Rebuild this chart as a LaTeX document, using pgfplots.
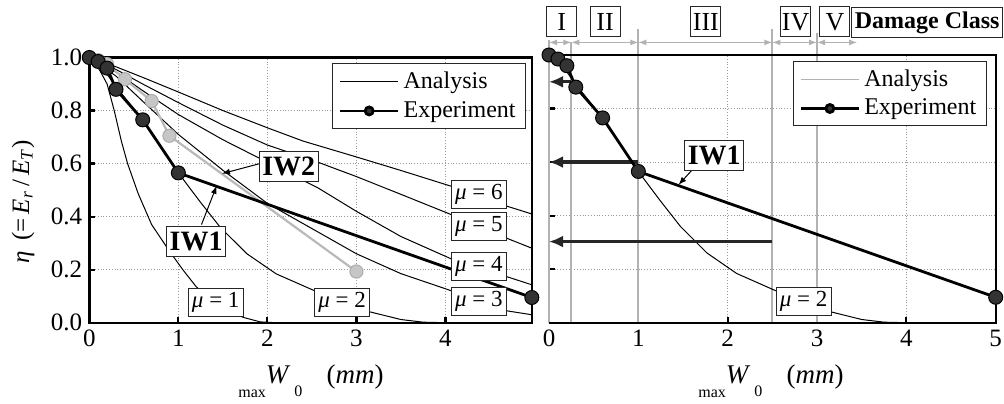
\documentclass[border=0pt]{standalone}
\usepackage{fontspec}
\setmainfont{Liberation Serif}
\usepackage{pgfplots}
\pgfplotsset{compat=1.18}
\usetikzlibrary{arrows.meta}

\pgfplotsset{
  base/.style={
    scale only axis, xmin=0, ymin=0, ymax=1, clip=false,
    axis line style={line width=1.2pt},
    tick align=inside, xtick pos=left, ytick pos=left,
    major tick length=3pt,
    tick style={line width=1.1pt, black},
    grid=major, grid style={densely dotted, gray!80, line width=0.5pt},
    ytick={0,0.2,0.4,0.6,0.8,1.0},
    ticklabel style={font=\fontsize{12.5}{14}\selectfont},
    legend style={draw=black!85, line width=0.5pt, fill=white,
      font=\fontsize{12}{13}\selectfont, inner xsep=3pt, inner ysep=2pt,
      row sep=1pt, cells={anchor=west}},
    legend image code/.code={\draw[mark repeat=2,mark phase=2,#1] plot coordinates {(0pt,0pt) (14.5pt,0pt) (29pt,0pt)};},
  },
  expline/.style={black, line width=1.4pt},
  expmark/.style={only marks, mark=*, mark size=3.5pt, mark options={fill=black!80, draw=black, line width=0.5pt}},
  ana/.style={black, line width=0.5pt},
}
\tikzset{
  mulab/.style={draw=black!85, fill=white, line width=0.5pt, inner sep=1pt,
    minimum width=27.5pt, minimum height=14pt, font=\fontsize{11.5}{13}\selectfont},
  iwlab/.style={draw=black!85, fill=white, line width=0.5pt, inner sep=1.5pt,
    minimum width=29pt, minimum height=15pt, font=\bfseries\fontsize{14}{15}\selectfont},
  romlab/.style={draw=black!85, fill=white, line width=0.5pt, inner sep=0.5pt,
    minimum width=15pt, minimum height=15pt, font=\fontsize{13}{15}\selectfont},
  dca/.style={gray!60, line width=0.6pt, {Latex[length=4pt,width=3pt]}-{Latex[length=4pt,width=3pt]}},
  harr/.style={black!85, line width=1.6pt, -{Latex[length=7pt,width=6pt]}},
  xlab/.style={anchor=base, font=\fontsize{13.5}{15}\selectfont},
}
\newcommand{\xlabtext}{\raisebox{-1.15ex}{\fontsize{8}{9}\selectfont max}\textit{W}\hspace{2pt}\raisebox{-1.1ex}{\fontsize{8}{9}\selectfont 0}\hspace{0.9em}(\textit{mm})}

\begin{document}
\begin{tikzpicture}
\useasboundingbox (0,0) rectangle (502pt,201.5pt);

% ---------------- LEFT ----------------
\begin{axis}[base, at={(44.65pt,40.15pt)}, anchor=south west,
  width=221.25pt, height=132.6pt, xmax=4.97,
  xtick={0,1,2,3,4}, xticklabels={0,1,2,3,4},
  yticklabels={0.0,0.2,0.4,0.6,0.8,1.0},
  legend style={at={(0.987,0.978)}, anchor=north east}]
\addlegendimage{ana}
\addlegendentry{Analysis}
\addlegendimage{expline, mark=*, mark size=2pt, mark options={fill=black!80}}
\addlegendentry{Experiment}

% mu = 1
\addplot[ana, forget plot] coordinates {(0,1) (0.05,0.985) (0.12,0.95) (0.2,0.9) (0.28,0.8) (0.36,0.685) (0.43,0.6) (0.55,0.486) (0.7,0.37) (0.9,0.27) (1.05,0.2) (1.2,0.136) (1.45,0.06) (1.73,0.02) (1.92,0.003) (2.1,0)};
% mu = 2
\addplot[ana, forget plot] coordinates {(0,1) (0.15,0.96) (0.3,0.89) (0.6,0.765) (1,0.565) (1.24,0.458) (1.47,0.36) (1.77,0.26) (2.1,0.184) (2.52,0.122) (3.15,0.041) (3.5,0.012) (3.75,0.002) (4,0)};
% mu = 3
\addplot[ana, forget plot] coordinates {(0,1) (0.3,0.93) (0.6,0.835) (1,0.71) (1.5,0.575) (2,0.45) (2.5,0.355) (3,0.26) (3.5,0.185) (4.07,0.12) (4.685,0.045) (4.97,0.03)};
% mu = 4
\addplot[ana, forget plot] coordinates {(0,1) (0.3,0.945) (0.6,0.875) (1,0.785) (1.5,0.69) (2,0.605) (2.57,0.508) (3,0.42) (3.5,0.325) (4.07,0.24) (4.685,0.174) (4.97,0.143)};
% mu = 5
\addplot[ana, forget plot] coordinates {(0,1) (0.3,0.955) (0.6,0.9) (1,0.83) (1.5,0.745) (2,0.67) (2.57,0.605) (3,0.551) (3.5,0.484) (4.07,0.407) (4.685,0.319) (4.97,0.281)};
% mu = 6
\addplot[ana, forget plot] coordinates {(0,1) (0.3,0.965) (0.6,0.925) (1,0.87) (1.5,0.8) (2,0.735) (2.4,0.685) (3,0.625) (3.5,0.574) (4.07,0.514) (4.685,0.44) (4.97,0.41)};

% IW2 experiment (grey)
\addplot[gray!55, line width=1.1pt, forget plot] coordinates {(0,1.0) (0.1,0.99) (0.2,0.975) (0.4,0.918) (0.7,0.836) (0.9,0.705) (3.0,0.193)};
\addplot[only marks, mark=*, mark size=3.3pt, mark options={fill=gray!45, draw=gray!65, line width=0.5pt}, forget plot] coordinates {(0,1.0) (0.1,0.99) (0.2,0.975) (0.4,0.918) (0.7,0.836) (0.9,0.705) (3.0,0.193)};

% IW1 experiment (black)
\addplot[expline, forget plot] coordinates {(0,1.0) (0.1,0.985) (0.2,0.96) (0.3,0.88) (0.6,0.765) (1.0,0.565) (4.97,0.095)};
\addplot[expmark, forget plot] coordinates {(0,1.0) (0.1,0.985) (0.2,0.96) (0.3,0.88) (0.6,0.765) (1.0,0.565) (4.97,0.095)};

% annotations
\draw[-{Latex[length=4pt,width=3pt]}, line width=0.5pt] (axis cs:1.916,0.600) -- (axis cs:1.49,0.562);
\draw[-{Latex[length=4pt,width=3pt]}, line width=0.5pt] (axis cs:1.26,0.37) -- (axis cs:1.43,0.516);
\node[iwlab] at (axis cs:2.24,0.588) {IW2};
\node[iwlab] at (axis cs:1.2,0.307) {IW1};
\node[mulab] at (axis cs:1.42,0.077) {\textit{μ} = 1};
\node[mulab] at (axis cs:2.84,0.076) {\textit{μ} = 2};
\node[mulab] at (axis cs:4.375,0.079) {\textit{μ} = 3};
\node[mulab] at (axis cs:4.375,0.212) {\textit{μ} = 4};
\node[mulab] at (axis cs:4.375,0.363) {\textit{μ} = 5};
\node[mulab] at (axis cs:4.375,0.483) {\textit{μ} = 6};
\end{axis}

% ---------------- RIGHT ----------------
\begin{axis}[base, at={(274.5pt,40.15pt)}, anchor=south west,
  width=223.35pt, height=133.85pt, xmax=5,
  axis line style={draw=none},
  xtick={0,1,2,3,4,5}, xticklabels={0,1,2,3,4,5},
  yticklabels={},
  legend style={at={(0.98,0.978)}, anchor=north east}]
\addlegendimage{gray!60, line width=0.6pt}
\addlegendentry{Analysis}
\addlegendimage{expline, mark=*, mark size=2pt, mark options={fill=black!80}}
\addlegendentry{Experiment}

% class boundaries
\draw[gray!60, line width=1pt] (axis cs:0,0) -- (axis cs:0,1.056);
\draw[gray!60, line width=1pt] (axis cs:0.25,0) -- (axis cs:0.25,1.05);
\draw[gray!60, line width=1pt] (axis cs:1,0) -- (axis cs:1,1.096);
\draw[gray!60, line width=1pt] (axis cs:2.5,0) -- (axis cs:2.5,1.096);
\draw[gray!60, line width=1pt] (axis cs:3,0) -- (axis cs:3,1.082);
% frame
\draw[line width=1.2pt] (axis cs:0,0) -- (axis cs:5,0) -- (axis cs:5,1) -- (axis cs:0,1);

% mu = 2
\addplot[ana, forget plot] coordinates {(0,1) (0.15,0.96) (0.3,0.89) (0.6,0.765) (1,0.565) (1.24,0.458) (1.47,0.36) (1.77,0.26) (2.1,0.184) (2.52,0.122) (3.15,0.041) (3.5,0.012) (3.75,0.002) (4,0)};

% damage class arrows
\draw[dca] (axis cs:0,1.047) -- (axis cs:0.25,1.047);
\draw[dca] (axis cs:0.25,1.047) -- (axis cs:1,1.047);
\draw[dca] (axis cs:1,1.047) -- (axis cs:2.5,1.047);
\draw[dca] (axis cs:2.5,1.047) -- (axis cs:3,1.047);
\draw[dca] (axis cs:3,1.047) -- (axis cs:3.45,1.047);

% horizontal arrows
\draw[harr] (axis cs:0.25,0.90) -- (axis cs:0.0,0.90);
\draw[harr] (axis cs:1.0,0.60) -- (axis cs:0.0,0.60);
\draw[harr] (axis cs:2.5,0.303) -- (axis cs:0.0,0.303);

% IW1 experiment
\addplot[expline, forget plot] coordinates {(0,1.0) (0.1,0.985) (0.2,0.96) (0.3,0.88) (0.6,0.765) (1.0,0.565) (5.0,0.095)};
\addplot[expmark, forget plot] coordinates {(0,1.0) (0.1,0.985) (0.2,0.96) (0.3,0.88) (0.6,0.765) (1.0,0.565) (5.0,0.095)};

\draw[-{Latex[length=4pt,width=3pt]}, line width=0.5pt] (axis cs:1.6,0.57) -- (axis cs:1.45,0.515);
\node[iwlab] at (axis cs:1.85,0.626) {IW1};
\node[mulab] at (axis cs:2.85,0.079) {\textit{μ} = 2};

% damage class labels
\node[romlab] at (axis cs:0.142,1.124) {I};
\node[romlab] at (axis cs:0.627,1.124) {II};
\node[romlab] at (axis cs:1.756,1.124) {III};
\node[romlab] at (axis cs:2.76,1.124) {IV};
\node[romlab] at (axis cs:3.2,1.124) {V};
\node[draw=black!85, fill=white, line width=0.5pt, inner sep=1.5pt, minimum height=15pt, font=\bfseries\fontsize{12}{14}\selectfont] at (axis cs:4.233,1.121) {Damage Class};
\end{axis}

% axis labels
\node[xlab] at (155.5pt,10pt) {\xlabtext};
\node[xlab] at (385.5pt,10pt) {\xlabtext};
\node[rotate=90, anchor=center, font=\fontsize{12.5}{14}\selectfont] at (11.5pt,100.5pt)
  {\textit{η}\ \,(=\,\textit{E}\textsubscript{\textit{r}}\,/\,\textit{E}\textsubscript{\textit{T}})};
\end{tikzpicture}
\end{document}
